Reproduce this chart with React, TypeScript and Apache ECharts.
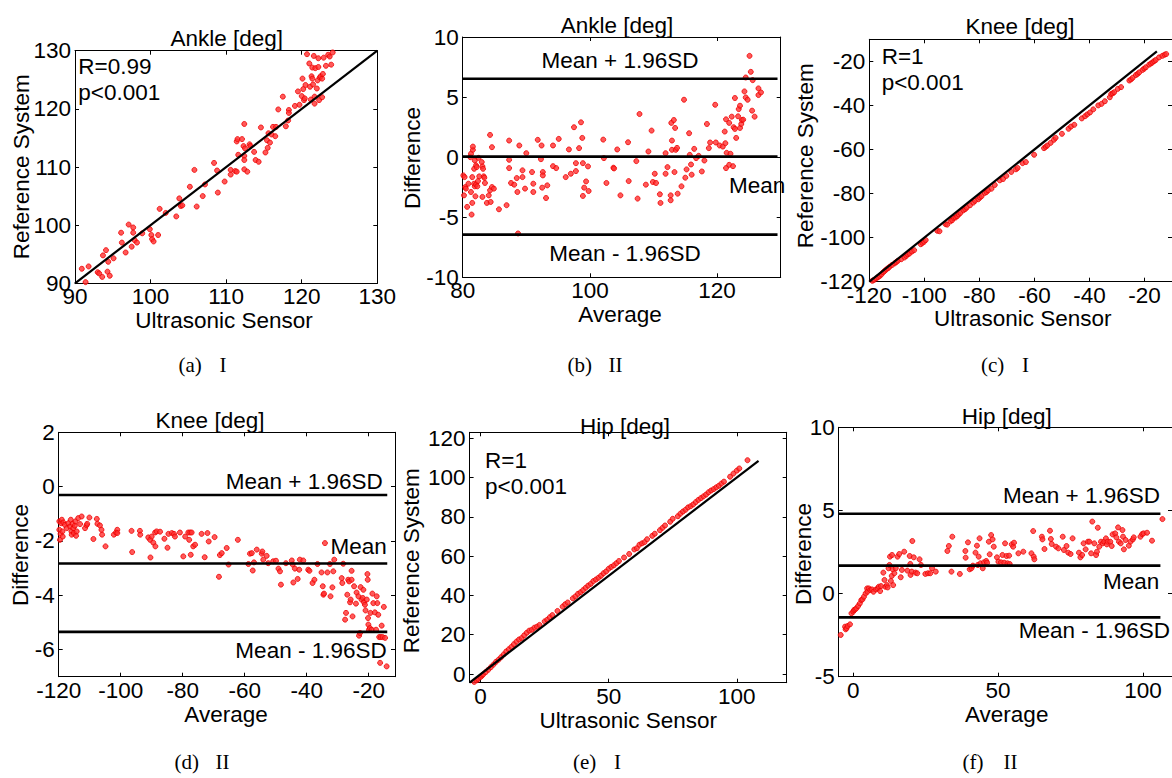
import React, { useEffect, useRef } from "react";
import * as echarts from "echarts";

// ---------- data ----------
const ankleCorr: [number, number][] = [
  [90.9, 92.5], [91.4, 90.2], [91.8, 92.9], [92.0, 89.9], [93.0, 91.9], [93.2, 91.7], [93.6, 91.1], [93.7, 94.8],
  [94.1, 95.7], [94.3, 92.0], [94.4, 93.7], [94.6, 91.3], [95.1, 94.3], [96.1, 98.7], [96.2, 97.0], [96.7, 95.3],
  [97.1, 100.1], [97.5, 96.3], [97.7, 99.6], [97.7, 98.7], [97.9, 97.4], [98.2, 97.0], [98.9, 98.6], [99.9, 99.3],
  [100.1, 98.3], [100.2, 97.6], [100.4, 97.2], [101.0, 98.3], [101.2, 102.8], [102.0, 102.1], [103.4, 101.5],
  [103.8, 104.6], [104.0, 103.3], [104.2, 103.4], [105.2, 106.6], [105.8, 109.5], [106.1, 103.2], [106.9, 105.0],
  [107.2, 107.0], [108.4, 110.7], [108.8, 109.4], [108.9, 105.6], [109.8, 107.5], [110.6, 109.5], [110.6, 108.7],
  [111.2, 109.3], [111.4, 109.2], [111.4, 114.4], [111.5, 114.8], [111.6, 112.1], [112.1, 114.8], [112.3, 113.6],
  [112.4, 117.4], [112.4, 111.9], [112.5, 113.2], [112.4, 111.2], [112.4, 109.6], [112.8, 109.2], [113.1, 113.9],
  [113.2, 113.6], [113.7, 112.6], [113.9, 111.2], [114.3, 110.9], [114.6, 116.8], [115.2, 112.5], [115.4, 114.6],
  [115.5, 113.3], [115.6, 115.8], [115.8, 114.2], [116.0, 115.6], [116.2, 116.9], [116.5, 115.3], [116.6, 116.9],
  [116.9, 119.9], [117.5, 122.1], [117.9, 117.0], [118.2, 118.0], [118.3, 119.8], [118.3, 119.3], [119.1, 120.5],
  [119.5, 123.0], [119.7, 120.7], [120.0, 122.2], [120.2, 123.4], [120.1, 125.2], [120.3, 121.5], [120.4, 121.8],
  [120.5, 124.1], [120.7, 129.4], [121.0, 127.8], [121.1, 123.8], [121.2, 121.6], [121.3, 125.6], [121.4, 125.2],
  [121.4, 127.1], [121.5, 124.2], [121.6, 129.1], [121.7, 120.9], [121.7, 122.1], [121.8, 127.0], [122.0, 123.5],
  [122.1, 124.9], [122.2, 128.7], [122.2, 127.2], [122.3, 121.5], [122.4, 125.4], [122.5, 125.6], [122.7, 122.0],
  [122.7, 125.2], [122.8, 126.0], [122.9, 128.8], [123.2, 127.4], [123.5, 129.3], [123.7, 129.0], [123.9, 127.6],
  [124.1, 129.7],
];

const ankleDiff: [number, number][] = [
  [80.1, -1.52], [80.2, -3.18], [80.3, -1.66], [80.4, -2.49], [80.5, -2.62], [80.7, -4.14], [80.9, -2.21], [81.2, 0.0],
  [81.3, 0.28], [81.3, -2.9], [81.4, -4.78], [81.5, -3.81], [81.5, -1.66], [81.6, 0.61], [81.6, 0.88], [81.8, -0.97],
  [81.8, -2.21], [81.9, -0.28], [81.9, -2.43], [82.0, -3.26], [82.1, -0.69], [82.1, -2.27], [82.2, -0.83], [82.3, -2.43],
  [82.4, -1.99], [82.5, -0.06], [82.6, -1.6], [83.0, -0.41], [83.1, -0.77], [83.1, -3.31], [83.2, -0.97], [83.3, -1.6],
  [83.4, -1.71], [83.5, -2.15], [83.8, -3.81], [84.1, -3.18], [84.3, -2.76], [84.3, 1.85], [84.4, -3.73], [84.6, 0.83],
  [84.6, -2.49], [84.9, -2.62], [85.7, -4.34], [86.9, -4.0], [87.3, 1.38], [87.3, -0.22], [87.3, -0.91], [87.6, -2.15],
  [88.1, -2.29], [88.5, -1.74], [88.6, -2.9], [88.7, -6.35], [88.9, 0.97], [89.4, -1.1], [89.4, -1.66], [89.8, -2.62],
  [90.0, 0.33], [90.9, -1.24], [91.1, -2.21], [91.1, -2.9], [91.8, 1.44], [92.3, -0.17], [92.4, 0.97], [92.5, -2.54],
  [92.6, -1.24], [92.6, -1.52], [93.1, -3.4], [93.3, -2.35], [94.2, 0.97], [94.2, -0.75], [94.7, -0.91], [95.1, 1.52],
  [96.2, -1.66], [96.7, 0.64], [97.0, -1.38], [97.5, 2.49], [97.8, -0.5], [97.8, -1.16], [98.3, 0.75], [98.6, 2.9],
  [98.8, 1.6], [98.9, -3.23], [98.9, -0.5], [99.1, -2.54], [99.4, -2.02], [99.7, -0.77], [99.8, -2.82], [102.1, 1.46],
  [102.2, -0.08], [102.6, -2.15], [103.7, -0.88], [103.8, -0.94], [104.3, 0.64], [104.8, -3.18], [106.0, 1.24],
  [106.1, -1.99], [107.3, -0.33], [107.5, -3.45], [107.8, 3.59], [108.8, -2.29], [109.2, 0.47], [109.7, 2.21],
  [109.9, -2.07], [110.2, -1.38], [110.4, -2.15], [111.0, -3.09], [111.1, -3.81], [111.9, 0.33], [111.9, -1.38],
  [112.2, -0.83], [112.7, -3.18], [112.7, -3.59], [112.8, 2.85], [112.9, 1.38], [112.9, 0.61], [113.2, 3.09],
  [113.3, -1.24], [113.4, 2.43], [113.5, 0.61], [113.7, 0.77], [113.8, -3.04], [114.4, -2.43], [114.8, 4.78],
  [115.0, -1.71], [115.2, -1.02], [115.6, 1.99], [115.7, 0.19], [115.9, -0.61], [116.0, -1.46], [116.4, 0.69],
  [116.7, -0.08], [117.1, 0.11], [117.6, -1.19], [118.0, -0.28], [118.4, 2.76], [118.7, 0.75], [118.9, 1.22],
  [119.7, 4.36], [119.8, 1.22], [120.4, 0.97], [120.9, 0.88], [121.2, 2.13], [121.3, 1.16], [121.4, 3.15],
  [121.4, -0.91], [121.5, 0.36], [121.9, 2.85], [121.9, -0.64], [122.1, 0.28], [122.3, 3.37], [122.5, -0.75],
  [122.6, 2.49], [122.8, 4.92], [122.8, 2.35], [123.0, 1.6], [123.3, 3.4], [123.4, 4.0], [123.6, 4.28], [123.6, 2.43],
  [123.8, 2.76], [123.9, 3.09], [124.1, 3.12], [124.3, 5.47], [124.5, 6.63], [124.5, 4.97], [124.8, 4.78],
  [125.1, 8.43], [125.3, 7.1], [125.5, 3.87], [125.6, 6.41], [125.9, 3.37], [126.5, 5.72], [126.5, 5.17], [126.9, 5.39],
];

const kneeCorr: [number, number][] = [
  [-118.9, -119.6], [-118.3, -119.2], [-117.4, -118.5], [-116.8, -117.9], [-116.2, -117.4], [-115.6, -116.7],
  [-114.9, -115.7], [-114.4, -115.1], [-113.8, -114.4], [-113.2, -113.9], [-112.6, -113.2], [-111.7, -112.4],
  [-110.8, -111.7], [-110.2, -111.1], [-109.6, -110.5], [-108.4, -109.8], [-107.2, -109.0], [-106.6, -108.3],
  [-106.0, -107.6], [-105.4, -107.2], [-104.5, -106.3], [-103.7, -105.7], [-101.3, -103.0], [-100.7, -102.4],
  [-100.1, -101.9], [-99.5, -101.1], [-95.3, -96.9], [-94.5, -97.1], [-92.3, -93.9], [-91.7, -94.1],
  [-90.5, -92.6], [-89.9, -92.1], [-89.3, -91.0], [-88.7, -90.9], [-88.1, -90.3], [-87.5, -89.5], [-86.9, -88.8],
  [-85.8, -87.6], [-85.2, -87.1], [-84.6, -86.4], [-83.4, -85.3], [-82.2, -84.1], [-81.6, -83.3], [-80.4, -82.6],
  [-79.8, -81.8], [-79.2, -81.2], [-78.0, -79.7], [-77.4, -79.3], [-76.8, -78.5], [-75.6, -77.8], [-74.4, -76.1],
  [-72.6, -74.0], [-71.4, -73.4], [-70.2, -72.0], [-68.4, -70.2], [-66.7, -69.0], [-66.1, -68.4], [-64.3, -66.2],
  [-63.1, -65.7], [-60.1, -62.4], [-56.5, -59.4], [-55.9, -58.8], [-55.3, -58.2], [-54.1, -57.0], [-52.9, -55.6],
  [-52.3, -54.7], [-50.0, -52.9], [-47.6, -50.6], [-46.7, -49.6], [-45.5, -48.8], [-42.8, -45.9], [-41.6, -44.9],
  [-40.8, -44.1], [-39.8, -43.2], [-38.6, -41.8], [-36.8, -40.0], [-35.6, -39.3], [-34.4, -38.1], [-32.6, -36.3],
  [-32.1, -34.8], [-31.5, -34.5], [-31.0, -34.0], [-29.7, -32.5], [-28.5, -31.7], [-25.5, -28.7], [-24.9, -28.2],
  [-24.3, -27.5], [-23.1, -26.2], [-22.5, -25.7], [-21.9, -25.0], [-20.7, -23.9], [-20.1, -23.3], [-19.5, -22.7],
  [-18.3, -21.5], [-17.7, -21.0], [-17.1, -20.5], [-16.5, -19.9], [-15.9, -19.4], [-14.7, -18.2], [-13.5, -17.5],
  [-12.7, -17.0], [-12.1, -16.7],
];

const kneeDiff: [number, number][] = [
  [-119.8, -1.28], [-119.8, -1.59], [-119.6, -1.96], [-119.4, -1.74], [-119.2, -1.35], [-119.0, -1.22],
  [-118.8, -1.65], [-118.7, -1.84], [-118.5, -1.32], [-118.0, -1.41], [-117.4, -1.53], [-116.9, -1.35],
  [-116.3, -1.47], [-116.1, -1.22], [-115.9, -1.65], [-115.8, -1.77], [-115.5, -1.37], [-115.3, -1.53],
  [-115.1, -1.71], [-114.8, -1.44], [-114.6, -1.28], [-114.4, -1.81], [-114.2, -1.65], [-113.7, -1.16],
  [-113.1, -1.38], [-112.6, -1.1], [-111.5, -1.53], [-111.0, -1.42], [-110.8, -1.37], [-110.1, -1.14],
  [-108.8, -1.93], [-107.7, -1.19], [-107.5, -1.37], [-106.7, -1.43], [-106.2, -1.59], [-106.0, -1.77],
  [-104.9, -2.2], [-102.2, -1.77], [-101.5, -1.69], [-101.1, -1.59], [-101.1, -1.71], [-96.5, -1.63], [-96.3, -2.41],
  [-93.8, -1.63], [-93.7, -1.77], [-91.1, -1.87], [-90.5, -1.96], [-90.4, -2.61], [-90.0, -1.84], [-89.5, -2.06],
  [-88.9, -1.69], [-88.8, -2.2], [-88.4, -1.65], [-87.3, -1.66], [-85.9, -1.92], [-84.9, -2.25], [-84.6, -1.74],
  [-83.5, -1.71], [-82.8, -1.74], [-82.5, -1.84], [-80.9, -1.69], [-79.8, -2.57], [-79.2, -1.84], [-78.2, -1.69],
  [-77.9, -1.96], [-77.6, -1.69], [-77.4, -2.51], [-77.1, -1.69], [-76.6, -2.2], [-76.0, -2.14], [-73.9, -1.74],
  [-72.9, -2.6], [-72.0, -1.71], [-71.6, -2.02], [-69.7, -1.86], [-68.3, -3.32], [-68.0, -2.52], [-67.4, -2.45],
  [-65.8, -2.26], [-65.2, -2.87], [-62.2, -1.96], [-58.8, -2.85], [-58.3, -2.47], [-57.7, -2.45], [-57.4, -3.09],
  [-57.0, -2.79], [-56.1, -2.32], [-54.5, -2.47], [-54.3, -2.39], [-54.0, -2.69], [-52.9, -2.55], [-52.4, -2.82],
  [-50.8, -2.75], [-49.9, -2.73], [-49.1, -3.02], [-48.6, -3.12], [-48.3, -3.61], [-46.7, -2.82], [-44.8, -2.72],
  [-44.5, -2.87], [-44.3, -3.53], [-43.8, -3.02], [-42.9, -3.4], [-42.4, -3.06], [-42.2, -2.69], [-41.1, -2.72],
  [-39.5, -3.06], [-39.1, -3.1], [-38.1, -3.55], [-37.5, -3.43], [-36.5, -2.85], [-35.2, -3.16], [-34.8, -3.67],
  [-34.6, -3.98], [-34.4, -3.94], [-34.1, -2.08], [-33.3, -3.16], [-32.5, -2.85], [-32.3, -4.04], [-31.7, -3.71],
  [-31.4, -3.12], [-31.1, -2.69], [-28.7, -3.37], [-28.5, -3.55], [-28.2, -2.84], [-27.6, -4.9], [-27.3, -4.65],
  [-26.9, -3.98], [-26.6, -3.43], [-26.3, -3.49], [-26.0, -4.26], [-25.8, -4.16], [-25.5, -3.43], [-25.5, -3.1],
  [-25.2, -4.78], [-24.7, -3.67], [-24.1, -4.31], [-23.9, -3.9], [-23.3, -4.04], [-23.1, -5.49], [-22.8, -5.39],
  [-22.6, -3.7], [-22.3, -4.16], [-21.9, -4.1], [-21.7, -3.8], [-21.5, -4.26], [-21.2, -4.35], [-21.0, -4.56],
  [-20.6, -4.16], [-20.4, -3.22], [-20.3, -3.43], [-20.2, -4.84], [-20.1, -5.08], [-19.9, -5.27], [-19.6, -5.21],
  [-19.4, -4.65], [-19.0, -5.27], [-18.8, -3.94], [-18.5, -4.29], [-18.0, -4.63], [-17.6, -5.27], [-17.4, -4.04],
  [-17.2, -4.29], [-16.9, -4.72], [-16.6, -5.54], [-16.3, -6.49], [-16.1, -5.54], [-15.8, -5.12], [-15.5, -5.54],
  [-15.1, -4.43], [-14.7, -5.57], [-14.2, -6.62],
];

const hipCorr: [number, number][] = [
  [-2.5, -4.0], [-1.5, -3.2], [-1.0, -2.5], [0.0, -1.5], [0.5, -0.8], [1.0, -0.2], [2.0, 1.0], [3.0, 2.2],
  [4.0, 3.5], [5.0, 4.8], [6.0, 6.2], [7.0, 7.3], [8.0, 8.6], [9.0, 10.0], [10.0, 11.5], [11.0, 12.6],
  [12.0, 13.8], [13.0, 15.2], [14.0, 16.5], [15.0, 17.6], [16.0, 18.3], [17.0, 19.7], [18.0, 21.0], [19.0, 22.1],
  [20.0, 22.5], [21.0, 23.6], [22.0, 24.1], [23.0, 25.0], [25.0, 26.8], [26.0, 27.6], [27.0, 28.9], [28.0, 30.0],
  [30.0, 32.1], [32.0, 34.3], [33.0, 35.5], [34.0, 36.4], [36.0, 38.5], [37.0, 39.5], [38.0, 40.8], [39.0, 41.6],
  [40.0, 42.7], [41.0, 43.9], [42.0, 45.0], [43.0, 45.9], [44.0, 47.3], [45.0, 48.1], [46.0, 49.0], [47.0, 50.0],
  [48.0, 51.3], [49.0, 52.2], [50.0, 53.6], [51.0, 54.5], [52.0, 55.3], [53.0, 56.4], [54.0, 57.5], [56.0, 59.3],
  [58.0, 61.1], [60.0, 63.4], [61.0, 64.0], [62.0, 65.8], [63.0, 66.5], [64.0, 67.1], [65.0, 68.6], [67.0, 70.3],
  [68.0, 71.4], [70.0, 73.2], [71.0, 74.4], [72.0, 75.6], [74.0, 77.5], [75.0, 79.0], [77.0, 80.3], [78.0, 81.6],
  [79.0, 82.7], [80.0, 83.6], [81.0, 84.8], [82.0, 85.4], [83.0, 86.3], [84.0, 87.5], [85.0, 88.6], [86.0, 89.5],
  [87.0, 90.4], [88.0, 91.3], [89.0, 92.5], [90.0, 93.4], [91.0, 94.1], [92.0, 95.0], [93.0, 95.8], [94.0, 96.9],
  [95.0, 97.9], [97.4, 100.4], [98.7, 102.0], [100.0, 103.5], [101.0, 104.6], [104.2, 108.8],
];

const hipDiff: [number, number][] = [
  [-4.3, -2.49], [-2.8, -1.99], [-2.6, -2.15], [-2.3, -2.09], [-1.9, -1.95], [-1.1, -1.85], [-0.6, -1.19], [0.0, -1.09],
  [0.3, -0.99], [0.7, -0.95], [1.1, -0.89], [1.7, -0.75], [2.3, -0.59], [2.8, -0.39], [3.2, -0.35], [3.7, -0.19],
  [4.3, 0.01], [4.8, 0.31], [4.9, 0.11], [5.4, 0.31], [5.9, 0.21], [6.5, 0.25], [7.0, 0.11], [7.9, 0.25], [8.5, 0.31],
  [8.8, 0.41], [9.3, 0.15], [9.6, 0.45], [10.4, 1.26], [10.8, 0.82], [11.1, 0.41], [11.6, 0.51], [11.9, 0.37],
  [12.2, 1.52], [12.5, 1.72], [12.7, 2.22], [13.0, 0.76], [13.3, 1.06], [13.4, 2.32], [13.6, 1.46], [13.8, 0.51],
  [14.2, 1.22], [14.7, 1.52], [15.3, 2.22], [15.9, 2.38], [16.4, 0.98], [16.8, 1.42], [17.6, 2.52], [18.7, 1.38],
  [19.5, 2.26], [19.7, 1.78], [19.8, 1.12], [20.2, 1.32], [20.4, 3.16], [20.9, 2.18], [21.5, 1.26], [22.1, 1.22],
  [22.9, 2.06], [23.4, 1.72], [24.9, 1.18], [25.8, 1.22], [26.6, 1.22], [27.2, 1.52], [28.5, 1.32], [32.5, 2.56],
  [33.0, 2.86], [33.9, 1.32], [34.2, 3.42], [36.8, 1.18], [38.7, 2.56], [38.8, 2.16], [39.6, 3.08], [40.2, 1.46],
  [40.8, 1.52], [41.3, 1.68], [42.2, 2.46], [42.7, 2.88], [43.0, 1.72], [43.3, 2.22], [43.6, 3.32], [43.9, 1.82],
  [44.7, 1.52], [45.1, 1.88], [45.9, 1.96], [46.2, 1.86], [46.8, 3.12], [47.1, 2.36], [47.6, 3.52], [48.1, 3.26],
  [48.5, 2.82], [49.6, 2.18], [50.1, 1.92], [51.0, 1.88], [51.5, 2.32], [52.1, 1.86], [52.4, 3.02], [52.9, 2.26],
  [53.2, 1.82], [53.8, 2.28], [54.0, 1.78], [54.7, 2.96], [55.2, 2.82], [55.5, 3.06], [57.0, 2.42], [58.7, 2.52],
  [61.5, 2.42], [62.1, 3.76], [62.3, 2.22], [62.5, 2.06], [65.1, 3.42], [65.3, 3.26], [66.0, 2.68], [67.9, 3.78],
  [68.2, 3.28], [68.5, 2.98], [70.0, 2.82], [70.8, 2.72], [72.3, 3.42], [72.7, 2.62], [73.6, 2.86], [74.2, 2.46],
  [75.0, 2.38], [75.7, 3.32], [77.9, 2.46], [78.4, 2.18], [79.0, 2.32], [79.5, 3.02], [80.2, 2.66], [81.0, 3.12],
  [81.5, 3.12], [82.1, 2.42], [82.5, 4.33], [83.2, 3.02], [83.8, 2.32], [84.1, 2.52], [84.4, 3.96], [84.9, 2.82],
  [85.5, 3.12], [86.1, 3.02], [86.6, 3.12], [87.2, 3.32], [87.5, 2.96], [87.8, 3.12], [88.7, 3.12], [89.2, 2.86],
  [89.5, 3.56], [90.4, 3.62], [90.8, 3.38], [91.4, 3.98], [91.7, 3.12], [92.3, 3.02], [92.9, 3.82], [93.1, 3.42],
  [93.4, 2.66], [94.0, 3.22], [95.1, 2.88], [95.7, 3.12], [96.5, 3.26], [96.8, 3.38], [99.1, 3.42], [99.7, 3.58],
  [100.2, 3.62], [101.4, 3.66], [103.1, 3.18], [106.7, 4.48],
];

// identity lines (start, end)
const ankleIdentity = [90, 130];
const kneeIdentity = [-120, -15.5];
const hipIdentity = [-4.3, 108.5];

// Bland-Altman limits: [mean + 1.96SD, mean, mean - 1.96SD]
const ankleLimits = [6.53, 0.04, -6.45];
const kneeLimits = [-0.31, -2.83, -5.35];
const hipLimits = [4.8, 1.68, -1.43];
const ankleLimitSpan = [80, 129.5];
const kneeLimitSpan = [-120, -14];
const hipLimitSpan = [-5, 106];

// tick labels
const ticksA = [90, 100, 110, 120, 130];
const ticksBx = [80, 100, 120];
const ticksBy = [-10, -5, 0, 5, 10];
const ticksKnee = [-120, -100, -80, -60, -40, -20];
const ticksDy = [-6, -4, -2, 0, 2];
const ticksHipX = [0, 50, 100];
const ticksEy = [0, 20, 40, 60, 80, 100, 120];
const ticksFy = [-5, 0, 5, 10];

const SANS = '"Liberation Sans", Arial, Helvetica, sans-serif';
const SERIF = '"Liberation Serif", "Times New Roman", serif';
const FS = 22.5;

type Panel = {
  left: number; top: number; width: number; height: number;
  xMin: number; xMax: number; yMin: number; yMax: number;
  xTicks: number[]; yTicks: number[];
};

const panels: Panel[] = [
  { left: 75, top: 50.7, width: 302.3, height: 232.6, xMin: 90, xMax: 130, yMin: 90, yMax: 130, xTicks: ticksA, yTicks: ticksA },
  { left: 462.7, top: 37, width: 318, height: 240.3, xMin: 80, xMax: 130, yMin: -10, yMax: 10, xTicks: ticksBx, yTicks: ticksBy },
  { left: 869.3, top: 39.3, width: 307.6, height: 242.4, xMin: -120, xMax: -10, yMin: -120, yMax: -10, xTicks: ticksKnee, yTicks: ticksKnee },
  { left: 58.7, top: 432.3, width: 336.3, height: 244.4, xMin: -120, xMax: -11.5, yMin: -7, yMax: 2, xTicks: ticksKnee, yTicks: ticksDy },
  { left: 469.6, top: 432.3, width: 317.1, height: 250.4, xMin: -4.3, xMax: 119.5, yMin: -4.4, yMax: 123, xTicks: ticksHipX, yTicks: ticksEy },
  { left: 838.7, top: 427.3, width: 339.3, height: 249.4, xMin: -5, xMax: 110, yMin: -5, yMax: 10, xTicks: ticksHipX, yTicks: ticksFy },
];

function txt(text: string, x: number, y: number, align: string, opts: any = {}) {
  return {
    type: "text",
    x,
    y,
    rotation: opts.rotation || 0,
    silent: true,
    style: {
      text,
      font: `${opts.size || FS}px ${opts.family || SANS}`,
      fill: "#000",
      align,
      textAlign: align,
      verticalAlign: "middle",
      textVerticalAlign: "middle",
    },
  };
}

function caption(letter: string, roman: string, cx: number, cy: number) {
  const romanW = roman.length * 7;
  const total = 41 + romanW;
  const x0 = cx - total / 2;
  return [
    txt(`(${letter})`, x0, cy, "left", { family: SERIF, size: 21 }),
    txt(roman, x0 + 41, cy, "left", { family: SERIF, size: 21 }),
  ];
}

export default function App() {
  const ref = useRef<HTMLDivElement>(null);

  useEffect(() => {
    document.body.style.margin = "0";
    if (!ref.current) return;
    const chart = echarts.init(ref.current, undefined, { renderer: "svg" });

    const grid = panels.map((p) => ({ left: p.left, top: p.top, width: p.width, height: p.height, containLabel: false }));

    const axisBase = (gi: number, min: number, max: number, ticks: number[]) => ({
      type: "value",
      gridIndex: gi,
      min,
      max,
      splitLine: { show: false },
      axisLine: { show: true, onZero: false, lineStyle: { color: "#000", width: 1 } },
      axisTick: { show: true, inside: true, length: 4, customValues: ticks, lineStyle: { color: "#000", width: 1 } },
    });

    const xAxis: any[] = [];
    const yAxis: any[] = [];
    panels.forEach((p, i) => {
      xAxis.push({
        ...axisBase(i, p.xMin, p.xMax, p.xTicks),
        position: "bottom",
        axisLabel: { show: true, customValues: p.xTicks, color: "#000", fontSize: FS, fontFamily: SANS, margin: 2, showMinLabel: true, showMaxLabel: true },
      });
      xAxis.push({ ...axisBase(i, p.xMin, p.xMax, p.xTicks), position: "top", axisLabel: { show: false } });
      yAxis.push({
        ...axisBase(i, p.yMin, p.yMax, p.yTicks),
        position: "left",
        axisLabel: { show: true, customValues: p.yTicks, color: "#000", fontSize: FS, fontFamily: SANS, margin: 4, showMinLabel: true, showMaxLabel: true },
      });
      yAxis.push({ ...axisBase(i, p.yMin, p.yMax, p.yTicks), position: "right", axisLabel: { show: false } });
    });

    const scatter = (i: number, data: [number, number][]) => ({
      type: "scatter",
      xAxisIndex: 2 * i,
      yAxisIndex: 2 * i,
      data,
      symbol: "circle",
      symbolSize: 5,
      itemStyle: { color: "#ff3030", borderColor: "#ee0000", borderWidth: 1 },
      z: 3,
      silent: true,
    });

    const segment = (i: number, pts: number[][], width: number) => ({
      type: "line",
      xAxisIndex: 2 * i,
      yAxisIndex: 2 * i,
      data: pts,
      showSymbol: false,
      symbol: "none",
      lineStyle: { color: "#000", width },
      z: 4,
      silent: true,
    });

    const identity = (i: number, span: number[]) => segment(i, [[span[0], span[0]], [span[1], span[1]]], 2.2);
    const limits = (i: number, span: number[], vals: number[]) =>
      vals.map((v) => segment(i, [[span[0], v], [span[1], v]], 2.6));

    const series: any[] = [
      scatter(0, ankleCorr), identity(0, ankleIdentity),
      scatter(1, ankleDiff), ...limits(1, ankleLimitSpan, ankleLimits),
      scatter(2, kneeCorr), identity(2, kneeIdentity),
      scatter(3, kneeDiff), ...limits(3, kneeLimitSpan, kneeLimits),
      scatter(4, hipCorr), identity(4, hipIdentity),
      scatter(5, hipDiff), ...limits(5, hipLimitSpan, hipLimits),
    ];

    const rot = Math.PI / 2;
    const graphic: any[] = [
      // titles
      txt("Ankle [deg]", 226.7, 38.3, "center"),
      txt("Ankle [deg]", 617, 25, "center"),
      txt("Knee [deg]", 1020, 26.7, "center"),
      txt("Knee [deg]", 210, 420, "center"),
      txt("Hip [deg]", 625, 426.7, "center"),
      txt("Hip [deg]", 1006.7, 416.7, "center"),
      // x labels
      txt("Ultrasonic Sensor", 224, 320, "center"),
      txt("Average", 620, 314.5, "center"),
      txt("Ultrasonic Sensor", 1022.7, 318.5, "center"),
      txt("Average", 226, 714.5, "center"),
      txt("Ultrasonic Sensor", 628.3, 720, "center"),
      txt("Average", 1006.7, 714.5, "center"),
      // y labels
      txt("Reference System", 21.7, 166.7, "center", { rotation: rot }),
      txt("Difference", 412.7, 158, "center", { rotation: rot }),
      txt("Reference System", 805, 155.8, "center", { rotation: rot }),
      txt("Difference", 20, 555, "center", { rotation: rot }),
      txt("Reference System", 411.7, 560.8, "center", { rotation: rot }),
      txt("Difference", 803.3, 554, "center", { rotation: rot }),
      // correlation annotations
      txt("R=0.99", 78.3, 66.7, "left"),
      txt("p<0.001", 78.3, 92.7, "left"),
      txt("R=1", 881.7, 56, "left"),
      txt("p<0.001", 881.7, 82.7, "left"),
      txt("R=1", 485, 460, "left"),
      txt("p<0.001", 485, 486, "left"),
      // limits annotations
      txt("Mean + 1.96SD", 620, 60, "center"),
      txt("Mean - 1.96SD", 625, 253.3, "center"),
      txt("Mean", 729, 185, "left"),
      txt("Mean + 1.96SD", 382.7, 481, "right"),
      txt("Mean", 386.7, 546.7, "right"),
      txt("Mean - 1.96SD", 386.7, 650, "right"),
      txt("Mean + 1.96SD", 1160, 495, "right"),
      txt("Mean", 1159.3, 581, "right"),
      txt("Mean - 1.96SD", 1170, 630, "right"),
      // captions
      ...caption("a", "I", 202.5, 365),
      ...caption("b", "II", 595, 365),
      ...caption("c", "I", 1005, 365),
      ...caption("d", "II", 202, 762),
      ...caption("e", "I", 597, 762),
      ...caption("f", "II", 990, 762),
    ];

    chart.setOption({
      animation: false,
      backgroundColor: "#fff",
      grid,
      xAxis,
      yAxis,
      series,
      graphic,
    });

    return () => chart.dispose();
  }, []);

  return <div ref={ref} style={{ width: 1172, height: 778 }} />;
}
